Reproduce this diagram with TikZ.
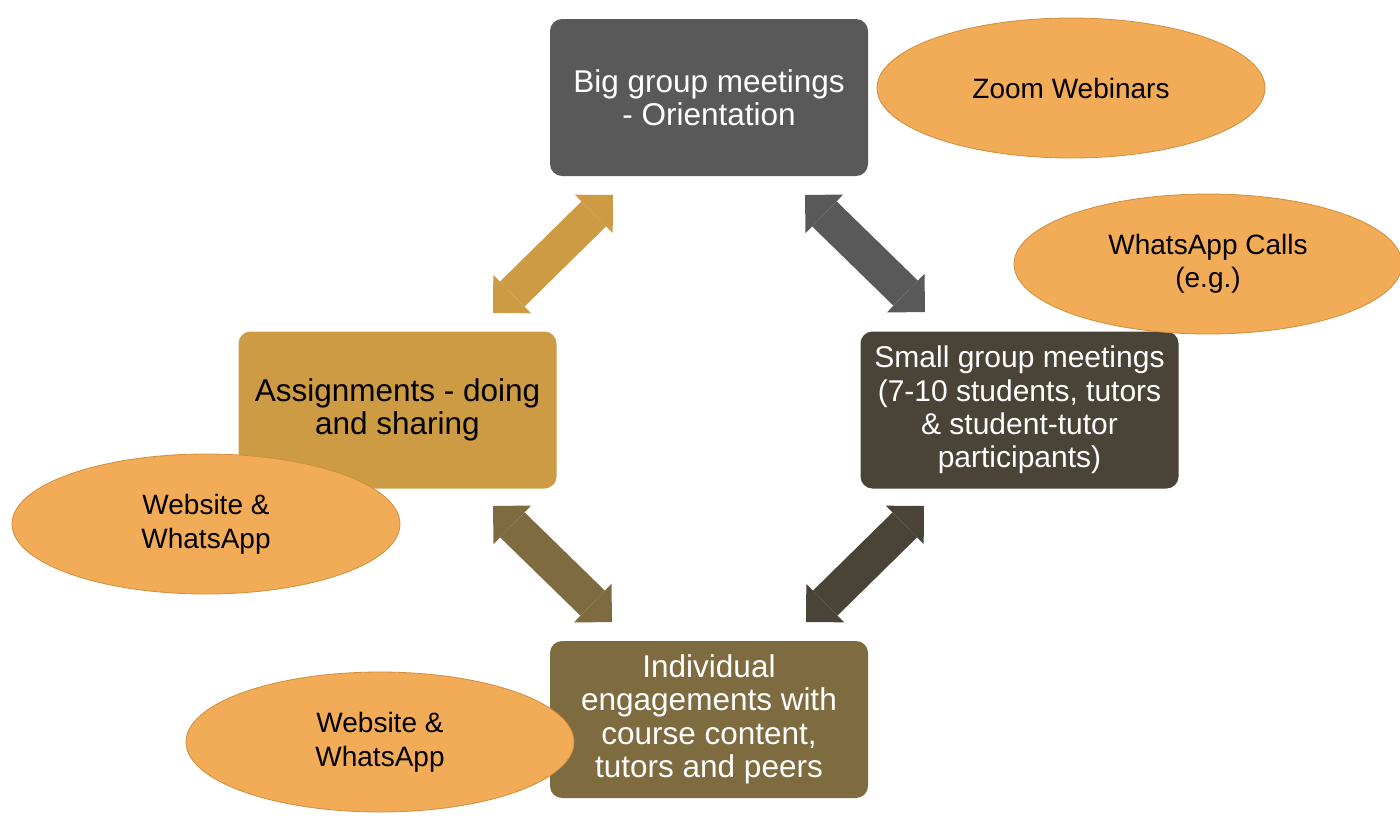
\documentclass[tikz,border=0pt]{standalone}
\usepackage{fontspec}
\setmainfont{Liberation Sans}
\usetikzlibrary{shapes.geometric,arrows.meta}
\definecolor{cTop}{HTML}{595959}
\definecolor{cLeft}{HTML}{CC9B43}
\definecolor{cRight}{HTML}{4A4337}
\definecolor{cBottom}{HTML}{7F6B40}
\definecolor{cEll}{HTML}{F2AB56}
\definecolor{cEllLine}{HTML}{D08E3E}
\tikzset{
  box/.style={rectangle, rounded corners=12pt, minimum width=318pt, minimum height=157pt,
    inner sep=0pt, align=center, font=\fontsize{31.5}{33.5}\selectfont},
  bubble/.style={ellipse, fill=cEll, draw=cEllLine, line width=0.8pt, inner sep=0pt,
    minimum width=388pt, minimum height=140pt, align=center, font=\fontsize{28}{33.5}\selectfont},
  blockarrow/.style={line width=35pt,
    {Triangle[width=54pt,length=27pt,line width=0pt]}-{Triangle[width=54pt,length=27pt,line width=0pt]}}
}
\begin{document}
\begin{tikzpicture}[x=1pt,y=-1pt]
\useasboundingbox (0,0) rectangle (1400,839);
% boxes
\node[box, fill=cTop, text=white] (top) at (709,97.5) {Big group meetings\\- Orientation};
\node[box, fill=cLeft, text=black] (left) at (397.5,410) {Assignments - doing\\and sharing};
\node[box, fill=cRight, text=white, font=\fontsize{30}{33.3}\selectfont] (right) at (1019.5,410) {Small group meetings\\(7-10 students, tutors\\\& student-tutor\\participants)};
\node[box, fill=cBottom, text=white] (bottom) at (709,719.5) {Individual\\engagements with\\course content,\\tutors and peers};
% arrow end points
\coordinate (a1s) at (613,195); \coordinate (a1e) at (493,313);
\coordinate (a2s) at (805,195); \coordinate (a2e) at (925,312);
\coordinate (a3s) at (493,506); \coordinate (a3e) at (612,622);
\coordinate (a4s) at (924,506); \coordinate (a4e) at (806,622);
\draw[blockarrow, draw=cLeft, fill=cLeft] (a1s) -- (a1e);
\draw[blockarrow, draw=cTop, fill=cTop] (a2s) -- (a2e);
\draw[blockarrow, draw=cBottom, fill=cBottom] (a3s) -- (a3e);
\draw[blockarrow, draw=cRight, fill=cRight] (a4s) -- (a4e);
% ellipses
\node[bubble] (zoom) at (1071,88) {Zoom Webinars};
\node[bubble] (calls) at (1208,264) {WhatsApp Calls\\(e.g.)};
\node[bubble] (webL) at (206,524) {Website \&\\WhatsApp};
\node[bubble] (webB) at (380,742) {Website \&\\WhatsApp};
\end{tikzpicture}
\end{document}
